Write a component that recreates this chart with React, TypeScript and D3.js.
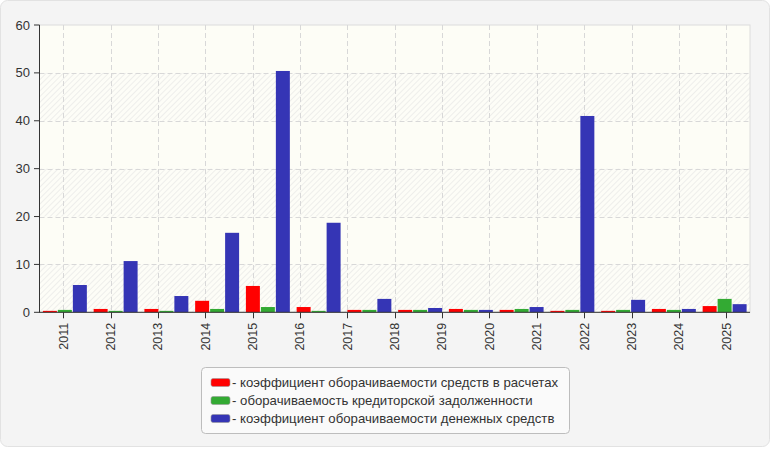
import { useRef, useEffect } from 'react';
import * as d3 from 'd3';

// tick labels (15) — the chart draws 14 bar groups under them
const years = ['2011', '2012', '2013', '2014', '2015', '2016', '2017', '2018', '2019', '2020', '2021', '2022', '2023', '2024', '2025'];

const receivablesTurnover = [0.3, 0.7, 0.7, 2.4, 5.5, 1.1, 0.5, 0.5, 0.7, 0.5, 0.3, 0.3, 0.7, 1.3];
const payablesTurnover = [0.5, 0.3, 0.3, 0.7, 1.1, 0.3, 0.5, 0.5, 0.5, 0.7, 0.5, 0.5, 0.5, 2.8];
const cashTurnover = [5.7, 10.7, 3.4, 16.6, 50.4, 18.7, 2.8, 0.9, 0.5, 1.1, 41.0, 2.6, 0.7, 1.7];

const seriesNames = [
  '- коэффициент оборачиваемости средств в расчетах',
  '- оборачиваемость кредиторской задолженности',
  '- коэффициент оборачиваемости денежных средств',
];
const seriesColors = ['#ff0000', '#33aa33', '#3535b5'];
const yTicks = [0, 10, 20, 30, 40, 50, 60];

const W = 770;
const H = 450;
const FONT = '"Liberation Sans", Arial, sans-serif';

export default function App() {
  const svgRef = useRef<SVGSVGElement>(null);

  useEffect(() => {
    if (!svgRef.current) return;
    const svg = d3.select(svgRef.current);
    svg.selectAll('*').remove();

    const left = 39.5;
    const right = 750;
    const top = 25;
    const bottom = 312.3;

    const y = d3.scaleLinear().domain([0, 60]).range([bottom, top]);
    const xTick = d3.scaleBand<string>().domain(years).range([left, right]);
    const groups = d3.range(cashTurnover.length);
    const x0 = d3.scaleBand<number>().domain(groups).range([left, right]);
    const x1 = d3.scaleBand<number>()
      .domain([0, 1, 2])
      .range([3.4, x0.bandwidth() - 3.4])
      .paddingInner(0.0667);

    // card background
    svg.append('rect')
      .attr('x', 0.5).attr('y', 0.5)
      .attr('width', W - 1).attr('height', H - 4)
      .attr('rx', 7)
      .attr('fill', '#f4f4f4')
      .attr('stroke', '#e2e2e2');

    // hatch pattern
    const defs = svg.append('defs');
    const pat = defs.append('pattern')
      .attr('id', 'hatch')
      .attr('patternUnits', 'userSpaceOnUse')
      .attr('width', 4).attr('height', 4)
      .attr('patternTransform', 'rotate(45)');
    pat.append('rect').attr('width', 4).attr('height', 4).attr('fill', '#fdfdf7');
    pat.append('line')
      .attr('x1', 0).attr('y1', 0).attr('x2', 0).attr('y2', 4)
      .attr('stroke', '#e9e9e7').attr('stroke-width', 1.5);

    // plot background with alternating bands
    svg.append('rect')
      .attr('x', left).attr('y', top)
      .attr('width', right - left).attr('height', bottom - top)
      .attr('fill', '#fdfdf6');
    const bands = d3.range(0, 60, 20);
    svg.selectAll('.band')
      .data(bands)
      .enter()
      .append('rect')
      .attr('x', left)
      .attr('y', (d) => y(d + 10))
      .attr('width', right - left)
      .attr('height', (d) => y(d) - y(d + 10))
      .attr('fill', 'url(#hatch)');

    // frame
    svg.append('rect')
      .attr('x', left).attr('y', top)
      .attr('width', right - left).attr('height', bottom - top)
      .attr('fill', 'none')
      .attr('stroke', '#dcdcdc');

    // grid
    svg.selectAll('.hgrid')
      .data(yTicks.filter((t) => t > 0 && t < 60))
      .enter()
      .append('line')
      .attr('x1', left).attr('x2', right)
      .attr('y1', (d) => Math.round(y(d)) + 0.5)
      .attr('y2', (d) => Math.round(y(d)) + 0.5)
      .attr('stroke', '#d8d8d8')
      .attr('stroke-dasharray', '5,3');
    svg.selectAll('.vgrid')
      .data(years)
      .enter()
      .append('line')
      .attr('x1', (d) => Math.round(xTick(d)! + xTick.bandwidth() / 2) + 0.5)
      .attr('x2', (d) => Math.round(xTick(d)! + xTick.bandwidth() / 2) + 0.5)
      .attr('y1', top).attr('y2', bottom)
      .attr('stroke', '#d8d8d8')
      .attr('stroke-dasharray', '5,3');

    // bars
    const seriesData = [receivablesTurnover, payablesTurnover, cashTurnover];
    seriesData.forEach((vals, s) => {
      svg.selectAll(`.bar-${s}`)
        .data(vals)
        .enter()
        .append('rect')
        .attr('x', (d, i) => x0(i)! + x1(s)!)
        .attr('y', (d) => y(d))
        .attr('width', x1.bandwidth())
        .attr('height', (d) => bottom - y(d))
        .attr('fill', seriesColors[s]);
    });

    // axes
    svg.append('line')
      .attr('x1', left).attr('x2', left)
      .attr('y1', top).attr('y2', bottom)
      .attr('stroke', '#333');
    svg.append('line')
      .attr('x1', left - 0.5).attr('x2', right)
      .attr('y1', bottom).attr('y2', bottom)
      .attr('stroke', '#333');

    svg.selectAll('.ytick')
      .data(yTicks)
      .enter()
      .append('line')
      .attr('x1', left - 5.5).attr('x2', left)
      .attr('y1', (d) => y(d)).attr('y2', (d) => y(d))
      .attr('stroke', '#333');
    svg.selectAll('.ylabel')
      .data(yTicks)
      .enter()
      .append('text')
      .attr('x', left - 9.5)
      .attr('y', (d) => y(d))
      .attr('dy', '0.35em')
      .attr('text-anchor', 'end')
      .attr('font-family', FONT)
      .attr('font-size', 13)
      .attr('fill', '#333')
      .text((d) => String(d));

    svg.selectAll('.xtick')
      .data(years)
      .enter()
      .append('line')
      .attr('x1', (d) => Math.round(xTick(d)! + xTick.bandwidth() / 2) + 0.5)
      .attr('x2', (d) => Math.round(xTick(d)! + xTick.bandwidth() / 2) + 0.5)
      .attr('y1', bottom).attr('y2', bottom + 6)
      .attr('stroke', '#333');
    svg.selectAll('.xlabel')
      .data(years)
      .enter()
      .append('text')
      .attr('transform', (d) => `translate(${xTick(d)! + xTick.bandwidth() / 2},${bottom + 10.5}) rotate(-90)`)
      .attr('dy', '0.35em')
      .attr('text-anchor', 'end')
      .attr('font-family', FONT)
      .attr('font-size', 12.5)
      .attr('fill', '#333')
      .text((d) => d);

    // legend
    const lg = svg.append('g').attr('transform', 'translate(201,367)');
    lg.append('rect')
      .attr('x', 0.5).attr('y', 0.5)
      .attr('width', 368).attr('height', 66)
      .attr('rx', 4)
      .attr('fill', '#fafafa')
      .attr('stroke', '#bdbdbd');
    seriesNames.forEach((name, i) => {
      const cy = 15.5 + i * 18;
      lg.append('rect')
        .attr('x', 10).attr('y', cy - 4)
        .attr('width', 19).attr('height', 8)
        .attr('rx', 2)
        .attr('fill', seriesColors[i])
        .attr('stroke', '#999')
        .attr('stroke-width', 0.6);
      lg.append('text')
        .attr('x', 31)
        .attr('y', cy)
        .attr('dy', '0.35em')
        .attr('font-family', FONT)
        .attr('font-size', 13.2)
        .attr('fill', '#333')
        .text(name);
    });
  }, []);

  return (
    <svg
      ref={svgRef}
      width={W}
      height={H}
      style={{ position: 'absolute', left: 0, top: 0, display: 'block' }}
    />
  );
}
